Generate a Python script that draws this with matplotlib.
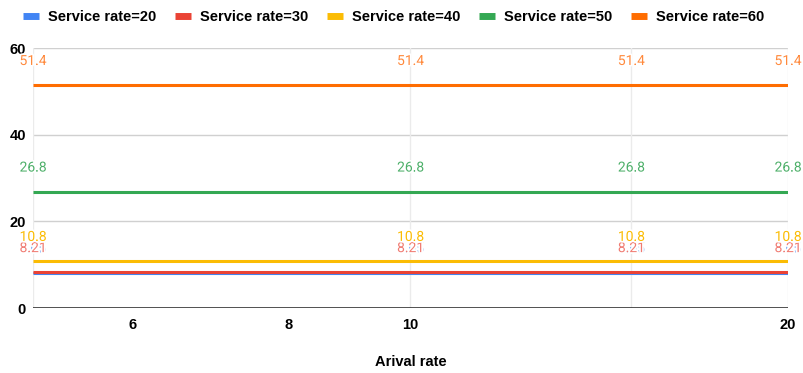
import matplotlib
matplotlib.use("Agg")
import matplotlib.pyplot as plt
import matplotlib.patheffects as pe
from matplotlib.lines import Line2D
from matplotlib.ticker import FixedLocator, NullLocator

arrival_rate = [5, 10, 15, 20]
series_names = ["Service rate=20", "Service rate=30", "Service rate=40",
                "Service rate=50", "Service rate=60"]
wait_sr20 = [8.05, 8.05, 8.05, 8.05]
wait_sr30 = [8.21, 8.21, 8.21, 8.21]
wait_sr40 = [10.8, 10.8, 10.8, 10.8]
wait_sr50 = [26.8, 26.8, 26.8, 26.8]
wait_sr60 = [51.4, 51.4, 51.4, 51.4]
x_ticks = [6, 8, 10, 20]
y_ticks = [0, 20, 40, 60]

colors = ["#4285F4", "#EA4335", "#FBBC04", "#34A853", "#FF6D01"]
label_colors = ["#7BAAF7", "#F07B72", "#FBBC04", "#4CAF68", "#FF8A3D"]

plt.rcParams["font.family"] = ["Liberation Sans", "DejaVu Sans"]

fig = plt.figure(figsize=(8.04, 3.73), dpi=100)
ax = fig.add_axes([33 / 804, 1 - 308 / 373, (788 - 33) / 804, (308 - 48) / 373])

all_series = [wait_sr20, wait_sr30, wait_sr40, wait_sr50, wait_sr60]
for vals, c in zip(all_series, colors):
    ax.plot(arrival_rate, vals, color=c, lw=2.2, solid_capstyle="butt", zorder=3)

# value labels above each point; later series get a white halo so they sit on top
for i, (vals, c) in enumerate(zip(all_series, label_colors)):
    for x, v in zip(arrival_rate, vals):
        t = ax.annotate(f"{v:g}", (x, v), xytext=(0, 17.5), textcoords="offset points",
                        ha="center", va="center", color=c, fontsize=10,
                        family=["Roboto", "DejaVu Sans"], zorder=4 + i)
        if i > 0:
            t.set_path_effects([pe.withStroke(linewidth=2.5, foreground="white")])

ax.set_xscale("log")
ax.set_xlim(5, 20)
ax.set_ylim(0, 60)
ax.xaxis.set_major_locator(FixedLocator(x_ticks))
ax.xaxis.set_minor_locator(NullLocator())
ax.set_xticklabels([str(t) for t in x_ticks])
ax.set_yticks(y_ticks)

for y in y_ticks[1:]:
    ax.axhline(y, color="#d0d0d0", lw=1, zorder=1)
ax.axhline(0, color="#333333", lw=1.2, zorder=2)
for x in arrival_rate:
    ax.axvline(x, color="#ebebeb", lw=1, zorder=1)

for s in ax.spines.values():
    s.set_visible(False)
ax.tick_params(length=0, labelsize=10.5)
ax.tick_params(axis="x", pad=7)
ax.tick_params(axis="y", pad=5)
for lab in ax.get_xticklabels() + ax.get_yticklabels():
    lab.set_fontweight("bold")

ax.set_xlabel("Arival rate", fontsize=10.5, fontweight="bold", labelpad=17)

handles = [Line2D([], [], color=c, lw=5, solid_capstyle="butt") for c in colors]
fig.legend(handles, series_names, loc="center left", bbox_to_anchor=(0.029, 1 - 17 / 373),
           ncol=5, frameon=False, handlelength=1.05, handletextpad=0.65,
           columnspacing=1.3, borderaxespad=0, borderpad=0,
           prop={"weight": "bold", "size": 10.5})

fig.savefig("out.png", dpi=100)
